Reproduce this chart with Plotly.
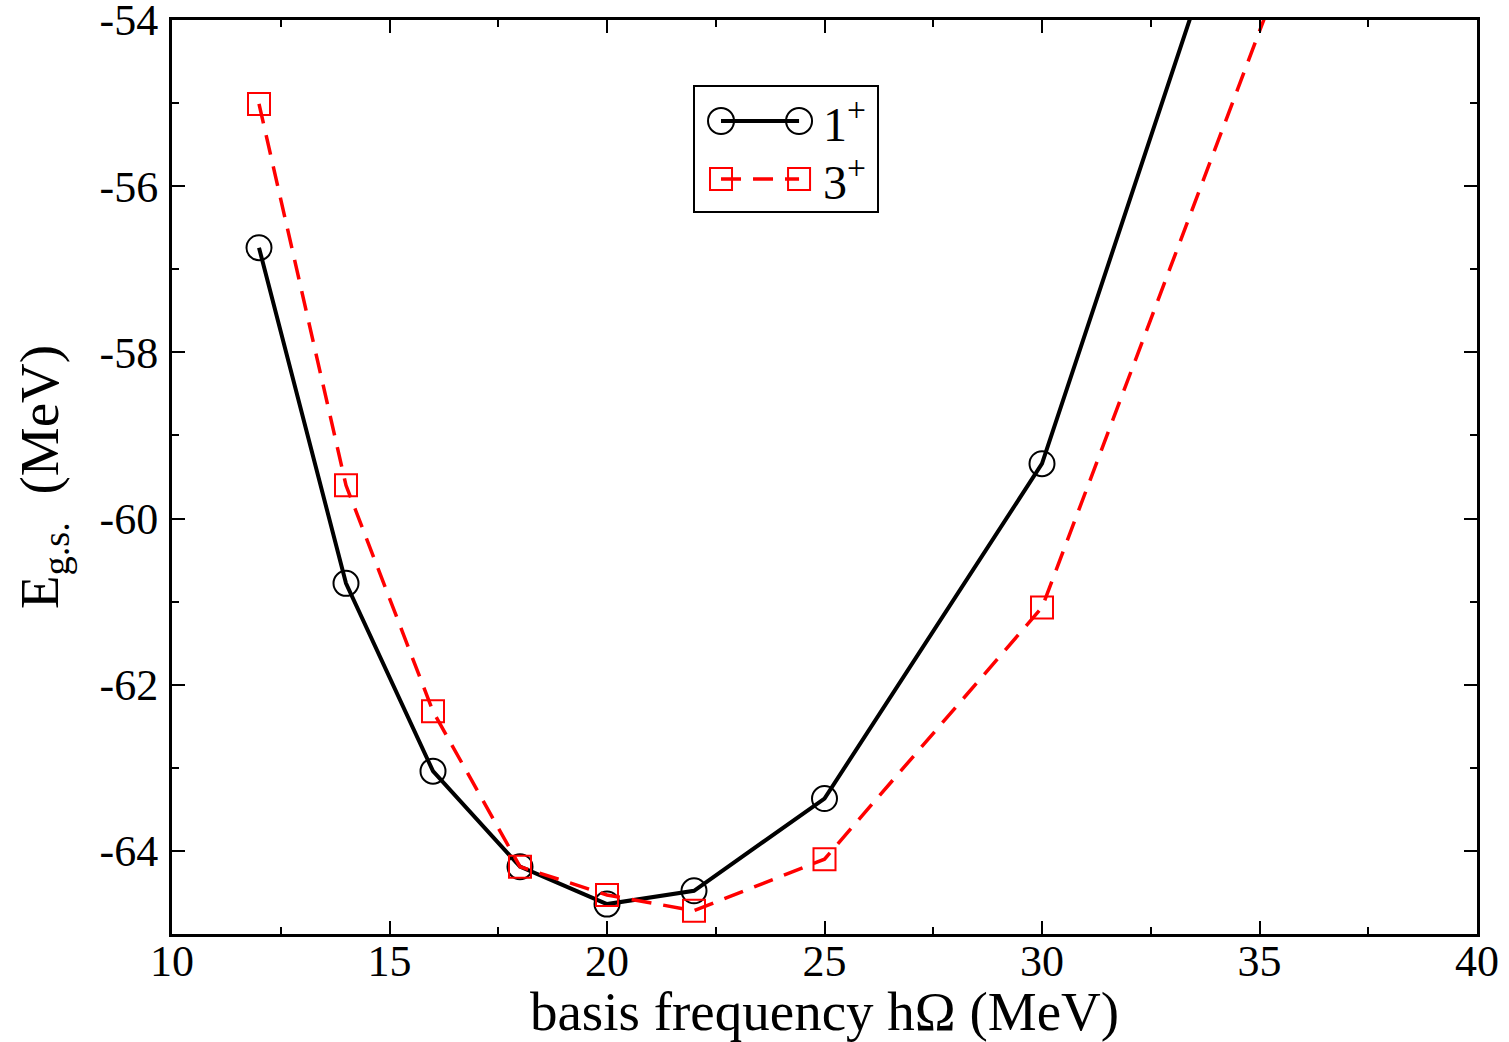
import plotly.graph_objects as go

hw = [12, 14, 16, 18, 20, 22, 25, 30, 40]
e_1plus = [-56.74, -60.78, -63.04, -64.19, -64.64, -64.48, -63.37, -59.34, -43.6]
e_3plus = [-55.01, -59.60, -62.32, -64.19, -64.53, -64.72, -64.10, -61.07, -47.2]

x_ticks = [10, 15, 20, 25, 30, 35, 40]
y_ticks = [-54, -56, -58, -60, -62, -64]
y_ticktext = ["-54", "-56", "-58", "-60", "-62", "-64"]

series_names = ["1<sup>+</sup>", "3<sup>+</sup>"]

FONT = "Liberation Serif"
BLACK = "black"
RED = "#ff0000"
DASH = "20px,12px"

fig = go.Figure()
fig.add_trace(go.Scatter(
    x=hw, y=e_1plus, mode="lines+markers", name=series_names[0],
    line=dict(color=BLACK, width=4),
    marker=dict(symbol="circle-open", size=25, color=BLACK, line=dict(width=2)),
    showlegend=False,
))
fig.add_trace(go.Scatter(
    x=hw, y=e_3plus, mode="lines+markers", name=series_names[1],
    line=dict(color=RED, width=3.5, dash=DASH),
    marker=dict(symbol="square-open", size=22, color=RED, line=dict(width=2)),
    showlegend=False,
))

axis_common = dict(
    showline=True, linecolor="black", linewidth=3, mirror="ticks",
    ticks="inside", ticklen=13, tickwidth=2, tickcolor="black",
    showgrid=False, zeroline=False, automargin=False,
    tickfont=dict(family=FONT, size=44, color="black"),
    ticklabeloverflow="allow",
)
fig.update_xaxes(
    range=[10, 40], tickvals=x_ticks, ticktext=[str(v) for v in x_ticks],
    minor=dict(ticks="inside", ticklen=7, tickwidth=2, tickcolor="black", dtick=2.5, tick0=10, showgrid=False),
    title=dict(text="basis frequency hΩ (MeV)", font=dict(family=FONT, size=55, color="black"), standoff=4),
    ticklabelstandoff=-14,
    **axis_common,
)
fig.update_yaxes(
    range=[-65, -53.9999], tickvals=y_ticks, ticktext=y_ticktext,
    minor=dict(ticks="inside", ticklen=7, tickwidth=2, tickcolor="black", dtick=1, tick0=-54, showgrid=False),
    title=dict(text="E<sub>g.s.</sub>  (MeV)", font=dict(family=FONT, size=55, color="black"), standoff=24),
    ticklabelstandoff=2,
    **axis_common,
)

# ---- custom legend (xmgrace style: markers at both ends of the line sample) ----
shapes = []
annotations = []
L_X0, L_X1 = 0.4, 0.541
L_Y0, L_Y1 = 0.790, 0.9278
shapes.append(dict(type="rect", xref="paper", yref="paper", x0=L_X0, x1=L_X1, y0=L_Y0, y1=L_Y1,
                   line=dict(color="black", width=2), fillcolor="white", layer="above"))
sx0, sx1 = 0.4207, 0.4805
rows = [0.8895, 0.826]
styles = [
    dict(color=BLACK, dash="solid", width=4, sym="circle", half=13),
    dict(color=RED, dash="20px,12px", width=3.5, sym="rect", half=11),
]
for yy, st, name in zip(rows, styles, series_names):
    shapes.append(dict(type="line", xref="paper", yref="paper", x0=sx0, x1=sx1, y0=yy, y1=yy,
                       line=dict(color=st["color"], width=st["width"], dash=st["dash"]), layer="above"))
    for xx in (sx0, sx1):
        shapes.append(dict(type=st["sym"], xref="paper", yref="paper",
                           xsizemode="pixel", ysizemode="pixel", xanchor=xx, yanchor=yy,
                           x0=-st["half"], x1=st["half"], y0=-st["half"], y1=st["half"],
                           line=dict(color=st["color"], width=2), layer="above"))
    annotations.append(dict(xref="paper", yref="paper", x=0.4974, y=yy, xanchor="left", yanchor="middle",
                            text=name, showarrow=False, font=dict(family=FONT, size=48, color="black")))

fig.update_layout(
    width=1509, height=1042,
    margin=dict(l=172, r=32, t=20, b=108),
    plot_bgcolor="white", paper_bgcolor="white",
    showlegend=False,
    shapes=shapes, annotations=annotations,
)
fig.write_html("out.html")
